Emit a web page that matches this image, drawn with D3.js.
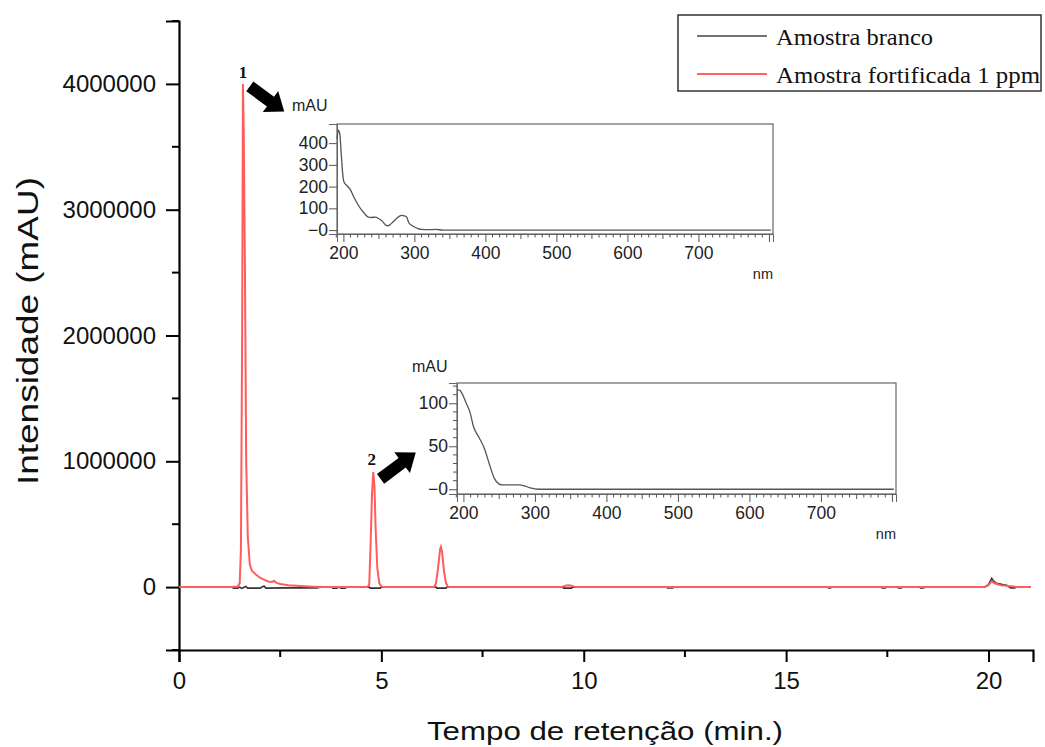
<!DOCTYPE html>
<html><head><meta charset="utf-8">
<script src="https://cdn.jsdelivr.net/npm/d3@7"></script>
<style>body{margin:0;background:#fff}svg{display:block}</style>
</head><body><svg id="c" width="1045" height="747"></svg>
<script>
// ---- Data ----
const seriesNames = ["Amostra branco", "Amostra fortificada 1 ppm"];
// chromatogram: retention time (min), intensity (mAU)
const redTime = [0,1.3,1.45,1.5,1.53,1.56,1.58,1.6,1.63,1.66,1.7,1.75,1.8,1.9,2.0,2.1,2.2,2.3,2.35,2.4,2.5,2.7,3.0,3.3,3.6,4.65,4.7,4.73,4.77,4.8,4.83,4.86,4.9,4.95,5.0,5.05,6.3,6.35,6.4,6.45,6.47,6.5,6.55,6.6,6.65,9.45,9.55,9.62,9.7,9.8,19.9,20.0,20.08,20.15,20.3,20.5,20.7,21.05];
const redValue = [0,0,5000,30000,300000,2000000,4000000,3600000,2500000,1000000,400000,180000,130000,100000,75000,60000,45000,40000,50000,35000,25000,15000,8000,3000,0,0,20000,300000,750000,915000,800000,450000,150000,30000,5000,0,0,30000,150000,300000,320000,280000,120000,30000,0,0,10000,15000,10000,0,0,15000,45000,30000,15000,8000,0,0];
const blackTime = [0,1.3,1.35,1.45,1.5,1.55,1.65,1.7,2.0,2.1,2.15,2.6,3.4,3.5,3.78,3.8,3.9,3.95,4.0,4.1,4.15,4.7,4.72,4.98,5.0,6.35,6.37,6.6,6.62,9.48,9.5,9.7,9.72,12.05,12.07,12.2,12.22,16.03,16.05,16.1,16.12,17.35,17.37,17.45,17.47,17.75,17.77,17.85,17.87,18.3,18.32,18.4,18.42,19.9,20.0,20.08,20.12,20.2,20.35,20.45,20.55,20.65,20.7,21.05];
const blackValue = [0,0,-8000,-8000,0,-10000,5000,-8000,-8000,8000,-8000,-6000,-6000,0,0,-8000,-8000,0,-8000,-8000,0,0,-8000,-8000,0,0,-8000,-8000,0,0,-8000,-8000,0,0,-7000,-7000,0,0,-6000,-6000,0,0,-6000,-6000,0,0,-6000,-6000,0,0,-6000,-6000,0,0,20000,70000,50000,30000,20000,15000,-6000,-6000,0,0];
const xTicks = [0,5,10,15,20];
const yTicks = [0,1000000,2000000,3000000,4000000];
// UV spectra insets: wavelength (nm), absorbance (mAU)
const spec1Nm = [191,193,195,197,199,201,205,210,215,220,225,230,235,240,245,250,255,260,263,268,273,278,282,286,289,292,296,300,305,310,320,330,340,400,802];
const spec1Val = [420,460,440,350,260,220,205,185,150,120,95,75,60,58,60,52,40,22,20,32,48,62,68,65,60,35,22,14,7,3,2,3,0,0,0];
const spec2Nm = [191,195,200,204,209,214,222,229,236,243,250,254,265,278,285,292,306,400,802];
const spec2Val = [116,115,108,100,90,73,60,48,30,13,6,5,5,5,4,2,0,0,0];
const specXTicks = [200,300,400,500,600,700];
const spec1YTicks = [0,100,200,300,400];
const spec2YTicks = [0,50,100];
const peakLabels = ["1","2"];
const peakLabelTime = [1.58,4.76];
const peakLabelValue = [4050000,970000];

// ---- Layout ----
const svg = d3.select("#c");
const sans = "'Liberation Sans', Arial, sans-serif";
const serif = "'Liberation Serif', 'Times New Roman', serif";
const x = d3.scaleLinear().domain([0,21.1]).range([179,1033]);
const y = d3.scaleLinear().domain([-500000,4500000]).range([650,21]);

// axes
const gx = svg.append("g").attr("transform",`translate(0,${y(-500000)})`)
  .call(d3.axisBottom(x).tickValues(xTicks).tickSize(12).tickPadding(10).tickFormat(d3.format("d")));
gx.selectAll("text").attr("font-family",sans).attr("font-size",24).attr("fill","#111");
gx.append("g").selectAll("line").data([2.5,7.5,12.5,17.5]).join("line")
  .attr("x1",d=>x(d)).attr("x2",d=>x(d)).attr("y1",0).attr("y2",7).attr("stroke","#000").attr("stroke-width",2);
const gy = svg.append("g").attr("transform",`translate(${x(0)},0)`)
  .call(d3.axisLeft(y).tickValues(yTicks).tickSize(13).tickPadding(10).tickFormat(d3.format("d")));
gy.selectAll("text").attr("font-family",sans).attr("font-size",24).attr("fill","#111");
gy.append("g").selectAll("line").data([-500000,500000,1500000,2500000,3500000,4500000]).join("line")
  .attr("y1",d=>y(d)).attr("y2",d=>y(d)).attr("x1",0).attr("x2",-7).attr("stroke","#000").attr("stroke-width",2);
[gx,gy].forEach(g=>{g.select(".domain").attr("stroke","#000").attr("stroke-width",2.2);
  g.selectAll(".tick line").attr("stroke","#000").attr("stroke-width",2);});

// axis titles
svg.append("text").attr("x",605).attr("y",740).attr("text-anchor","middle")
  .attr("font-family",sans).attr("font-size",26).attr("fill","#111")
  .attr("textLength",356).attr("lengthAdjust","spacingAndGlyphs").text("Tempo de retenção (min.)");
svg.append("text").attr("transform","translate(38,331) rotate(-90)").attr("text-anchor","middle")
  .attr("font-family",sans).attr("font-size",29).attr("fill","#111")
  .attr("textLength",308).attr("lengthAdjust","spacingAndGlyphs").text("Intensidade (mAU)");

// lines
const line = d3.line().x(d=>x(d[0])).y(d=>y(d[1]));
svg.append("path").datum(blackTime.map((t,i)=>[t,blackValue[i]])).attr("d",line)
  .attr("fill","none").attr("stroke","#333").attr("stroke-width",1.6);
svg.append("path").datum(redTime.map((t,i)=>[t,redValue[i]])).attr("d",line)
  .attr("fill","none").attr("stroke","#ff5c5c").attr("stroke-width",2);

// peak labels
svg.selectAll(".pl").data(peakLabels).join("text").attr("class","pl")
  .attr("x",(d,i)=>x(peakLabelTime[i])).attr("y",(d,i)=>y(peakLabelValue[i]))
  .attr("text-anchor","middle").attr("font-family",serif).attr("font-weight","bold")
  .attr("font-size",17).attr("fill","#111").text(d=>d);

// arrows (tail -> tip in data coords)
const arrows = [[[1.75,3980000],[2.6,3780000]],[[4.98,860000],[5.85,1070000]]];
arrows.forEach(([a,b])=>{
  const x0=x(a[0]),y0=y(a[1]),x1=x(b[0]),y1=y(b[1]);
  const L=Math.hypot(x1-x0,y1-y0), ang=Math.atan2(y1-y0,x1-x0)*180/Math.PI;
  const hl=17, bw=6, hw=13;
  svg.append("path").attr("transform",`translate(${x0},${y0}) rotate(${ang})`)
    .attr("d",`M0,${-bw}L${L-hl},${-bw}L${L-hl},${-hw}L${L},0L${L-hl},${hw}L${L-hl},${bw}L0,${bw}Z`)
    .attr("fill","#000");
});

// insets
function inset(box, nmDom, valDom, nm, val, yTicks, yMinor, yLabel){
  const sx = d3.scaleLinear().domain(nmDom).range([box.x0, box.x1]);
  const sy = d3.scaleLinear().domain(valDom).range([box.y1, box.y0]);
  const g = svg.append("g");
  g.append("rect").attr("x",box.x0).attr("y",box.y0).attr("width",box.x1-box.x0).attr("height",box.y1-box.y0)
    .attr("fill","none").attr("stroke","#666").attr("stroke-width",1.2);
  const ax = g.append("g").attr("transform",`translate(0,${box.y1})`)
    .call(d3.axisBottom(sx).tickValues(specXTicks).tickSize(8).tickPadding(5).tickFormat(d3.format("d")));
  ax.append("g").selectAll("line").data(d3.range(190,801,10).filter(v=>v%100!==0)).join("line")
    .attr("x1",d=>sx(d)).attr("x2",d=>sx(d)).attr("y1",0).attr("y2",d=>d%50===0?5:3.5).attr("stroke","#555");
  ax.append("line").attr("x1",sx(800)).attr("x2",sx(800)).attr("y1",0).attr("y2",8).attr("stroke","#555");
  const ay = g.append("g").attr("transform",`translate(${box.x0},0)`)
    .call(d3.axisLeft(sy).tickValues(yTicks).tickSize(8).tickPadding(1).tickFormat(d=>d===0?"−0":d));
  if(yMinor.length) ay.append("g").selectAll("line").data(yMinor).join("line")
    .attr("y1",d=>sy(d)).attr("y2",d=>sy(d)).attr("x1",0).attr("x2",-4).attr("stroke","#555");
  [ax,ay].forEach(a=>{a.select(".domain").attr("stroke","#666");
    a.selectAll(".tick line").attr("stroke","#555");
    a.selectAll("text").attr("font-family",sans).attr("font-size",17.5).attr("fill","#222");});
  g.append("path").datum(nm.map((n,i)=>[n,val[i]]))
    .attr("d",d3.line().x(d=>sx(d[0])).y(d=>sy(d[1])).curve(d3.curveMonotoneX))
    .attr("fill","none").attr("stroke","#555").attr("stroke-width",1.3);
  g.append("text").attr("x",yLabel.mx).attr("y",yLabel.my).attr("font-family",sans).attr("font-size",16).attr("fill","#222").text("mAU");
  g.append("text").attr("x",box.x1).attr("y",yLabel.ny).attr("text-anchor","end").attr("font-family",sans).attr("font-size",14.5).attr("fill","#222").text("nm");
}
inset({x0:337,x1:773,y0:124,y1:234},[191,805],[-18,488],spec1Nm,spec1Val,spec1YTicks,[],{mx:292,my:111,ny:279});
inset({x0:457,x1:896,y0:383,y1:494},[191,805],[-5.5,123.6],spec2Nm,spec2Val,spec2YTicks,d3.range(10,121,10).filter(v=>v%50!==0),{mx:412,my:372,ny:539});

// legend
const lg = svg.append("g");
lg.append("rect").attr("x",678).attr("y",15).attr("width",363).attr("height",76)
  .attr("fill","#fff").attr("stroke","#333").attr("stroke-width",1.5);
const lcol = ["#444","#ff3030"];
const legendLen = [157,264];
seriesNames.forEach((s,i)=>{
  lg.append("line").attr("x1",697).attr("x2",767).attr("y1",36+i*38).attr("y2",36+i*38)
    .attr("stroke",lcol[i]).attr("stroke-width",1.5);
  lg.append("text").attr("x",776).attr("y",45+i*38).attr("font-family",serif).attr("font-size",24)
    .attr("fill","#111").attr("textLength",legendLen[i]).attr("lengthAdjust","spacingAndGlyphs").text(s);
});
</script></body></html>
